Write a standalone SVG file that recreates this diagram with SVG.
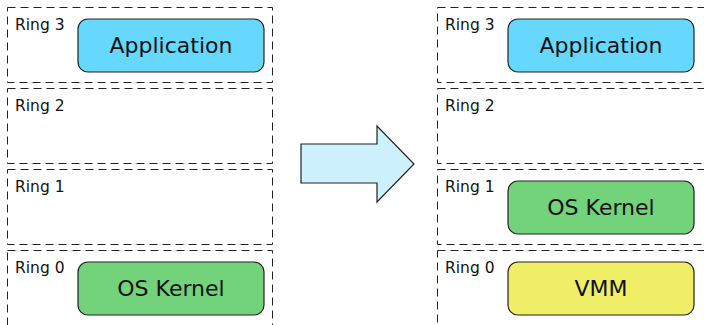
<svg xmlns="http://www.w3.org/2000/svg" width="704" height="325" viewBox="0 0 704 325">
<style>
.ring{fill:none;stroke:#222;stroke-width:1;stroke-dasharray:8 5}
.lbl{font-family:"DejaVu Sans","Liberation Sans",sans-serif;font-size:15.5px;fill:#111}
.box{stroke:#222;stroke-width:1.2}
.txt{font-family:"DejaVu Sans","Liberation Sans",sans-serif;font-size:22px;fill:#111;text-anchor:middle}
.app{fill:#66d8fd}
.os{fill:#72d37a}
.vmm{fill:#f0ee66}
</style>
<rect width="704" height="325" fill="#fff"/>
<g id="left">
  <g id="l-ring3"><rect class="ring" x="7.5" y="7.5" width="265" height="75"/><text class="lbl" x="15" y="30">Ring 3</text></g>
  <g id="l-ring2"><rect class="ring" x="7.5" y="88.5" width="265" height="75"/><text class="lbl" x="15" y="111">Ring 2</text></g>
  <g id="l-ring1"><rect class="ring" x="7.5" y="169.5" width="265" height="75"/><text class="lbl" x="15" y="192">Ring 1</text></g>
  <g id="l-ring0"><rect class="ring" x="7.5" y="250.5" width="265" height="78"/><text class="lbl" x="15" y="273">Ring 0</text></g>
  <g id="l-app"><rect class="box app" x="78" y="19" width="186" height="53" rx="10"/><text class="txt" x="171" y="53">Application</text></g>
  <g id="l-os"><rect class="box os" x="78" y="262" width="186" height="53" rx="10"/><text class="txt" x="171" y="296">OS Kernel</text></g>
</g>
<g id="connectors">
  <polygon points="301,144 377,144 377,126 414,164 377,202 377,183 301,183" fill="#cdf1fc" stroke="#222" stroke-width="1.2"/>
</g>
<g id="right">
  <g id="r-ring3"><rect class="ring" x="437.5" y="7.5" width="270" height="75"/><text class="lbl" x="445" y="30">Ring 3</text></g>
  <g id="r-ring2"><rect class="ring" x="437.5" y="88.5" width="270" height="75"/><text class="lbl" x="445" y="111">Ring 2</text></g>
  <g id="r-ring1"><rect class="ring" x="437.5" y="169.5" width="270" height="75"/><text class="lbl" x="445" y="192">Ring 1</text></g>
  <g id="r-ring0"><rect class="ring" x="437.5" y="250.5" width="270" height="78"/><text class="lbl" x="445" y="273">Ring 0</text></g>
  <g id="r-app"><rect class="box app" x="508" y="19" width="186" height="53" rx="10"/><text class="txt" x="601" y="53">Application</text></g>
  <g id="r-os"><rect class="box os" x="508" y="181" width="186" height="53" rx="10"/><text class="txt" x="601" y="215">OS Kernel</text></g>
  <g id="r-vmm"><rect class="box vmm" x="508" y="262" width="186" height="53" rx="10"/><text class="txt" x="601" y="296">VMM</text></g>
</g>
</svg>
